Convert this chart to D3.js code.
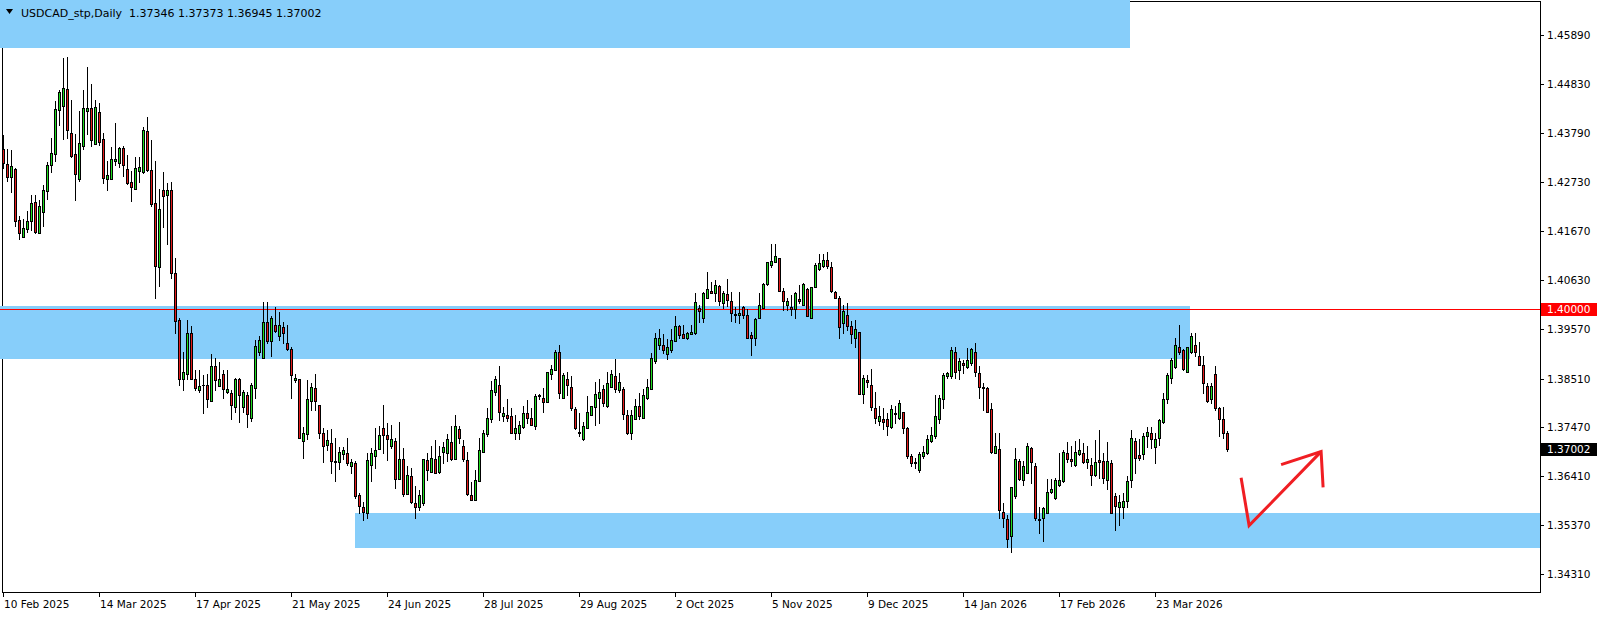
<!DOCTYPE html>
<html><head><meta charset="utf-8">
<script src="https://cdn.jsdelivr.net/npm/d3@7"></script>
<style>html,body{margin:0;padding:0;background:#fff;}svg{display:block;}</style>
</head><body><svg id="c" width="1604" height="617"></svg>
<script>
// ---- data (USDCAD daily) ----
const symbolTitle = "USDCAD_stp,Daily  1.37346 1.37373 1.36945 1.37002";
const opens = [
1.4344,1.4311,1.4283,1.4301,1.4191,1.4154,1.4172,1.4189,1.4230,1.4163,
1.4208,1.4253,1.4309,1.4333,1.4428,1.4436,1.4473,1.4378,1.4333,1.4279,
1.4350,1.4425,1.4432,1.4354,1.4423,1.4365,1.4279,1.4279,1.4318,1.4314,
1.4346,1.4301,1.4273,1.4258,1.4296,1.4294,1.4382,1.4299,1.4228,1.4090,
1.4256,1.4245,1.4256,1.4077,1.3976,1.3851,1.3860,1.3948,1.3849,1.3826,
1.3836,1.3838,1.3802,1.3877,1.3834,1.3860,1.3821,1.3819,1.3789,1.3851,
1.3789,1.3815,1.3767,1.3830,1.3909,1.3894,1.3972,1.3931,1.3967,1.3942,
1.3961,1.3927,1.3914,1.3847,1.3849,1.3716,1.3731,1.3802,1.3830,1.3795,
1.3733,1.3709,1.3712,1.3673,1.3671,1.3688,1.3692,1.3662,1.3669,1.3600,
1.3576,1.3561,1.3666,1.3684,1.3699,1.3744,1.3729,1.3705,1.3716,1.3636,
1.3679,1.3602,1.3641,1.3583,1.3576,1.3583,1.3675,1.3651,1.3679,1.3651,
1.3694,1.3690,1.3714,1.3679,1.3742,1.3705,1.3675,1.3600,1.3589,1.3630,
1.3694,1.3731,1.3763,1.3821,1.3838,1.3770,1.3772,1.3770,1.3735,1.3733,
1.3746,1.3776,1.3767,1.3750,1.3815,1.3810,1.3800,1.3860,1.3869,1.3907,
1.3810,1.3851,1.3832,1.3785,1.3737,1.3720,1.3744,1.3772,1.3789,1.3810,
1.3828,1.3793,1.3832,1.3856,1.3826,1.3828,1.3772,1.3735,1.3763,1.3793,
1.3767,1.3810,1.3828,1.3888,1.3922,1.3922,1.3903,1.3912,1.3931,1.3963,
1.3946,1.3939,1.3946,1.3948,1.4002,1.3982,1.4025,1.4040,1.4034,1.4049,
1.4013,1.4032,1.4017,1.3989,1.3987,1.4004,1.3987,1.3944,1.3939,1.3980,
1.4002,1.4053,1.4094,1.4101,1.4109,1.4038,1.4010,1.4004,1.4000,1.4021,
1.4010,1.4043,1.3982,1.4047,1.4086,1.4092,1.4105,1.4090,1.4036,1.4025,
1.3970,1.3987,1.3963,1.3937,1.3950,1.3817,1.3847,1.3836,1.3787,1.3759,
1.3765,1.3763,1.3746,1.3776,1.3767,1.3778,1.3744,1.3684,1.3671,1.3654,
1.3684,1.3692,1.3716,1.3727,1.3763,1.3808,1.3856,1.3856,1.3907,1.3869,
1.3884,1.3875,1.3884,1.3907,1.3862,1.3832,1.3830,1.3785,1.3692,1.3699,
1.3565,1.3550,1.3512,1.3598,1.3673,1.3632,1.3649,1.3701,1.3664,1.3550,
1.3552,1.3563,1.3608,1.3595,1.3623,1.3630,1.3690,1.3677,1.3666,1.3688,
1.3690,1.3671,1.3666,1.3643,1.3675,1.3673,1.3632,1.3669,1.3598,1.3574,
1.3574,1.3587,1.3632,1.3716,1.3686,1.3688,1.3727,1.3733,1.3703,1.3724,
1.3757,1.3806,1.3853,1.3875,1.3918,1.3912,1.3864,1.3907,1.3924,1.3899,
1.3879,1.3834,1.3806,1.3860,1.3787,1.3763,1.37346];
const highs = [
1.4374,1.4344,1.4342,1.4303,1.4200,1.4193,1.4210,1.4245,1.4245,1.4234,
1.4266,1.4316,1.4367,1.4447,1.4470,1.4539,1.4541,1.4449,1.4376,1.4425,
1.4470,1.4520,1.4483,1.4449,1.4443,1.4378,1.4318,1.4348,1.4400,1.4348,
1.4350,1.4331,1.4296,1.4326,1.4326,1.4391,1.4412,1.4363,1.4318,1.4258,
1.4294,1.4271,1.4273,1.4109,1.3982,1.3909,1.3976,1.3963,1.3869,1.3869,
1.3858,1.3860,1.3903,1.3896,1.3886,1.3869,1.3869,1.3826,1.3853,1.3853,
1.3826,1.3823,1.3841,1.3933,1.3942,1.4015,1.4015,1.3985,1.4004,1.3993,
1.3972,1.3967,1.3918,1.3860,1.3851,1.3746,1.3847,1.3841,1.3860,1.3795,
1.3744,1.3740,1.3742,1.3724,1.3703,1.3703,1.3724,1.3679,1.3673,1.3606,
1.3585,1.3692,1.3701,1.3744,1.3750,1.3795,1.3755,1.3752,1.3724,1.3757,
1.3701,1.3664,1.3658,1.3619,1.3611,1.3679,1.3692,1.3707,1.3718,1.3707,
1.3714,1.3731,1.3750,1.3772,1.3750,1.3718,1.3694,1.3628,1.3654,1.3724,
1.3740,1.3787,1.3845,1.3856,1.3877,1.3789,1.3808,1.3787,1.3772,1.3759,
1.3793,1.3804,1.3787,1.3817,1.3817,1.3830,1.3866,1.3879,1.3912,1.3922,
1.3862,1.3866,1.3856,1.3789,1.3776,1.3757,1.3813,1.3793,1.3843,1.3851,
1.3836,1.3864,1.3869,1.3892,1.3862,1.3832,1.3783,1.3783,1.3808,1.3819,
1.3828,1.3849,1.3905,1.3948,1.3957,1.3946,1.3935,1.3957,1.3985,1.3967,
1.3965,1.3950,1.3967,1.4034,1.4008,1.4036,1.4079,1.4058,1.4062,1.4051,
1.4040,1.4064,1.4036,1.4004,1.4036,1.4006,1.4000,1.3950,1.3982,1.4034,
1.4056,1.4101,1.4139,1.4139,1.4109,1.4045,1.4023,1.4030,1.4036,1.4051,
1.4056,1.4045,1.4047,1.4099,1.4118,1.4118,1.4122,1.4101,1.4040,1.4028,
1.4010,1.4013,1.3974,1.3976,1.3950,1.3858,1.3858,1.3871,1.3821,1.3791,
1.3787,1.3776,1.3795,1.3791,1.3804,1.3778,1.3746,1.3688,1.3681,1.3694,
1.3705,1.3729,1.3746,1.3815,1.3815,1.3862,1.3866,1.3918,1.3918,1.3896,
1.3890,1.3916,1.3916,1.3927,1.3877,1.3841,1.3832,1.3798,1.3735,1.3735,
1.3583,1.3557,1.3617,1.3701,1.3679,1.3673,1.3712,1.3703,1.3669,1.3574,
1.3574,1.3636,1.3636,1.3638,1.3690,1.3697,1.3714,1.3707,1.3716,1.3722,
1.3712,1.3707,1.3681,1.3718,1.3740,1.3692,1.3714,1.3675,1.3604,1.3600,
1.3604,1.3641,1.3740,1.3724,1.3720,1.3735,1.3746,1.3746,1.3733,1.3765,
1.3819,1.3862,1.3896,1.3939,1.3965,1.3914,1.3918,1.3948,1.3948,1.3929,
1.3899,1.3841,1.3841,1.3877,1.3789,1.3789,1.37373];
const lows = [
1.4303,1.4275,1.4251,1.4178,1.4150,1.4154,1.4165,1.4170,1.4163,1.4163,
1.4178,1.4236,1.4294,1.4318,1.4395,1.4365,1.4367,1.4326,1.4234,1.4275,
1.4344,1.4376,1.4350,1.4354,1.4352,1.4271,1.4256,1.4279,1.4309,1.4305,
1.4286,1.4268,1.4232,1.4258,1.4273,1.4292,1.4296,1.4221,1.4023,1.4049,
1.4176,1.4139,1.4068,1.3948,1.3836,1.3826,1.3849,1.3849,1.3826,1.3823,
1.3776,1.3789,1.3802,1.3826,1.3834,1.3810,1.3819,1.3765,1.3780,1.3757,
1.3780,1.3746,1.3759,1.3810,1.3901,1.3894,1.3927,1.3899,1.3950,1.3933,
1.3927,1.3912,1.3810,1.3843,1.3724,1.3681,1.3720,1.3783,1.3783,1.3724,
1.3671,1.3697,1.3649,1.3630,1.3656,1.3679,1.3666,1.3647,1.3595,1.3563,
1.3546,1.3552,1.3630,1.3658,1.3699,1.3690,1.3675,1.3701,1.3615,1.3636,
1.3598,1.3602,1.3583,1.3552,1.3568,1.3580,1.3634,1.3651,1.3649,1.3647,
1.3669,1.3673,1.3675,1.3679,1.3712,1.3673,1.3600,1.3589,1.3589,1.3630,
1.3694,1.3727,1.3757,1.3815,1.3761,1.3759,1.3759,1.3733,1.3720,1.3722,
1.3744,1.3755,1.3752,1.3742,1.3806,1.3778,1.3800,1.3849,1.3869,1.3810,
1.3810,1.3815,1.3783,1.3742,1.3727,1.3718,1.3744,1.3772,1.3752,1.3755,
1.3791,1.3789,1.3832,1.3821,1.3823,1.3765,1.3731,1.3722,1.3763,1.3765,
1.3767,1.3808,1.3828,1.3884,1.3914,1.3905,1.3892,1.3909,1.3931,1.3937,
1.3937,1.3935,1.3946,1.3946,1.3972,1.3972,1.4025,1.4034,1.4017,1.4010,
1.4002,1.4006,1.3974,1.3972,1.3970,1.3982,1.3937,1.3901,1.3922,1.3980,
1.4002,1.4051,1.4090,1.4101,1.4040,1.3998,1.3998,1.3987,1.3982,1.4013,
1.4010,1.3985,1.3980,1.4047,1.4084,1.4090,1.4088,1.4036,1.4023,1.3937,
1.3948,1.3955,1.3927,1.3918,1.3817,1.3798,1.3832,1.3783,1.3755,1.3752,
1.3742,1.3729,1.3744,1.3755,1.3765,1.3733,1.3681,1.3664,1.3658,1.3651,
1.3681,1.3688,1.3714,1.3724,1.3755,1.3787,1.3853,1.3853,1.3853,1.3851,
1.3862,1.3873,1.3881,1.3856,1.3810,1.3783,1.3778,1.3692,1.3690,1.3552,
1.3531,1.3490,1.3479,1.3595,1.3632,1.3623,1.3647,1.3626,1.3548,1.3520,
1.3501,1.3561,1.3604,1.3593,1.3621,1.3628,1.3671,1.3664,1.3664,1.3686,
1.3669,1.3658,1.3623,1.3641,1.3638,1.3626,1.3613,1.3561,1.3525,1.3537,
1.3552,1.3574,1.3617,1.3649,1.3675,1.3679,1.3703,1.3701,1.3669,1.3709,
1.3755,1.3798,1.3841,1.3873,1.3903,1.3869,1.3864,1.3905,1.3899,1.3879,
1.3819,1.3800,1.3798,1.3783,1.3727,1.3724,1.36945];
const closes = [
1.4314,1.4283,1.4307,1.4189,1.4163,1.4174,1.4189,1.4228,1.4165,1.4221,
1.4256,1.4309,1.4335,1.4430,1.4466,1.4475,1.4385,1.4329,1.4290,1.4357,
1.4432,1.4432,1.4363,1.4434,1.4359,1.4281,1.4288,1.4322,1.4322,1.4346,
1.4309,1.4271,1.4262,1.4303,1.4305,1.4385,1.4299,1.4225,1.4092,1.4215,
1.4243,1.4256,1.4077,1.3974,1.3851,1.3866,1.3948,1.3849,1.3830,1.3834,
1.3838,1.3806,1.3877,1.3847,1.3849,1.3828,1.3828,1.3795,1.3851,1.3815,
1.3821,1.3774,1.3836,1.3920,1.3933,1.3972,1.3931,1.3980,1.3952,1.3965,
1.3948,1.3914,1.3858,1.3853,1.3724,1.3733,1.3808,1.3832,1.3802,1.3735,
1.3707,1.3718,1.3673,1.3671,1.3694,1.3697,1.3669,1.3671,1.3598,1.3578,
1.3565,1.3675,1.3692,1.3697,1.3729,1.3729,1.3722,1.3722,1.3636,1.3679,
1.3602,1.3643,1.3585,1.3576,1.3600,1.3679,1.3654,1.3681,1.3649,1.3684,
1.3703,1.3720,1.3679,1.3750,1.3724,1.3677,1.3602,1.3591,1.3632,1.3697,
1.3735,1.3767,1.3826,1.3851,1.3778,1.3776,1.3767,1.3735,1.3744,1.3752,
1.3776,1.3767,1.3752,1.3813,1.3813,1.3800,1.3864,1.3871,1.3907,1.3819,
1.3858,1.3836,1.3787,1.3744,1.3735,1.3748,1.3780,1.3791,1.3817,1.3821,
1.3798,1.3841,1.3860,1.3828,1.3843,1.3774,1.3733,1.3772,1.3793,1.3770,
1.3815,1.3832,1.3894,1.3937,1.3939,1.3912,1.3918,1.3933,1.3963,1.3944,
1.3939,1.3948,1.3950,1.4015,1.3995,1.4034,1.4043,1.4034,1.4051,1.4017,
1.4034,1.4019,1.3991,1.3987,1.3991,1.3987,1.3939,1.3937,1.3978,1.4008,
1.4053,1.4101,1.4103,1.4114,1.4040,1.4017,1.4017,1.4000,1.4034,1.4017,
1.4053,1.3985,1.4047,1.4094,1.4099,1.4105,1.4092,1.4038,1.4025,1.3961,
1.3995,1.3963,1.3946,1.3957,1.3817,1.3853,1.3843,1.3789,1.3767,1.3770,
1.3757,1.3748,1.3785,1.3774,1.3798,1.3744,1.3684,1.3669,1.3669,1.3688,
1.3694,1.3722,1.3729,1.3770,1.3810,1.3858,1.3862,1.3912,1.3864,1.3888,
1.3879,1.3890,1.3914,1.3866,1.3832,1.3830,1.3780,1.3694,1.3705,1.3568,
1.3552,1.3507,1.3617,1.3679,1.3636,1.3662,1.3707,1.3671,1.3552,1.3548,
1.3572,1.3608,1.3613,1.3634,1.3634,1.3694,1.3677,1.3673,1.3694,1.3697,
1.3671,1.3679,1.3643,1.3671,1.3671,1.3638,1.3673,1.3563,1.3578,1.3585,
1.3587,1.3630,1.3724,1.3681,1.3681,1.3727,1.3737,1.3722,1.3720,1.3761,
1.3808,1.3858,1.3890,1.3922,1.3909,1.3871,1.3918,1.3942,1.3907,1.3881,
1.3841,1.3802,1.3834,1.3787,1.3763,1.3735,1.37002];

const dateLabels = ["10 Feb 2025","14 Mar 2025","17 Apr 2025","21 May 2025","24 Jun 2025","28 Jul 2025",
  "29 Aug 2025","2 Oct 2025","5 Nov 2025","9 Dec 2025","14 Jan 2026","17 Feb 2026","23 Mar 2026"];
const dateLabelBars = [0,24,48,72,96,120,144,168,192,216,240,264,288];
const priceTicks = [1.45890,1.44830,1.43790,1.42730,1.41670,1.40630,1.39570,1.38510,1.37470,1.36410,1.35370,1.34310];
const levelPrice = 1.40000;
const lastPrice = 1.37002;
// supply / demand zones: [from bar, to bar] and [top, bottom] prices
const zoneFrom = [-1, -1, 87.9];
const zoneTo = [281.6, 296.6, 400];
const zoneTop = [1.4700, 1.4006, 1.3562];
const zoneBottom = [1.4560, 1.3892, 1.3486];
// hand drawn arrow (bar index, price)
const arrowBars = [309.4, 311.4, 329.4];
const arrowPrices = [1.3638, 1.3535, 1.3694];
const headBars = [319.4, 329.4, 329.9];
const headPrices = [1.3666, 1.3694, 1.3617];

// ---- drawing ----
const N = opens.length;
const svg = d3.select("#c");
const frameR = 1540, frameB = 592;
const x = d3.scaleLinear().domain([0, N - 1]).range([3.5, 3.5 + 4 * (N - 1)]);
const y = d3.scaleLinear().domain([1.34310, 1.45890]).range([574, 35]);
const FONT = "DejaVu Sans";

svg.append("rect").attr("width", 1604).attr("height", 617).attr("fill", "#fff");
svg.append("defs").append("clipPath").attr("id", "plot")
  .append("rect").attr("x", 0).attr("y", 0).attr("width", frameR).attr("height", frameB);

// left/top frame (under zones)
svg.append("line").attr("x1", 2.5).attr("x2", 2.5).attr("y1", 1.5).attr("y2", frameB).attr("stroke", "#000");
svg.append("line").attr("x1", 2).attr("x2", frameR).attr("y1", 1.5).attr("y2", 1.5).attr("stroke", "#000");

const g = svg.append("g").attr("clip-path", "url(#plot)");
g.selectAll("rect.zone").data(zoneTop).join("rect").attr("class", "zone")
  .attr("x", (d, i) => Math.max(0, x(zoneFrom[i])))
  .attr("width", (d, i) => Math.min(frameR, x(zoneTo[i])) - Math.max(0, x(zoneFrom[i])))
  .attr("y", d => y(d))
  .attr("height", (d, i) => y(zoneBottom[i]) - y(d))
  .attr("fill", "#87cefa").attr("shape-rendering", "crispEdges");

// level line
g.append("line").attr("x1", 0).attr("x2", frameR)
  .attr("y1", Math.floor(y(levelPrice)) + 0.5).attr("y2", Math.floor(y(levelPrice)) + 0.5)
  .attr("stroke", "#ff0000").attr("stroke-width", 1.2).attr("shape-rendering", "crispEdges");

// candles
const cg = g.append("g").attr("shape-rendering", "crispEdges");
const idx = d3.range(N);
cg.selectAll("rect.wick").data(idx).join("rect").attr("class", "wick")
  .attr("x", i => x(i) - 0.5).attr("width", 1)
  .attr("y", i => Math.round(y(highs[i])))
  .attr("height", i => Math.max(1, Math.round(y(lows[i])) - Math.round(y(highs[i])) + 1))
  .attr("fill", "#000");
const bodyTop = i => Math.round(y(Math.max(opens[i], closes[i])));
const bodyBot = i => Math.max(Math.round(y(Math.min(opens[i], closes[i]))), bodyTop(i));
cg.selectAll("rect.body").data(idx).join("rect").attr("class", "body")
  .attr("x", i => x(i) - 1.5).attr("width", 3)
  .attr("y", bodyTop).attr("height", i => bodyBot(i) - bodyTop(i) + 1)
  .attr("fill", "#000");
cg.selectAll("rect.fill").data(idx.filter(i => bodyBot(i) - bodyTop(i) >= 2)).join("rect").attr("class", "fill")
  .attr("x", i => x(i) - 0.5).attr("width", 1)
  .attr("y", i => bodyTop(i) + 1).attr("height", i => bodyBot(i) - bodyTop(i) - 1)
  .attr("fill", i => closes[i] >= opens[i] ? "#1fdc1f" : "#e41b1b");

// arrow
const line = d3.line().x(d => x(d[0])).y(d => y(d[1]));
g.append("path").attr("d", line(arrowBars.map((b, i) => [b, arrowPrices[i]])))
  .attr("fill", "none").attr("stroke", "#f01e23").attr("stroke-width", 3).attr("stroke-linejoin", "miter");
g.append("path").attr("d", line(headBars.map((b, i) => [b, headPrices[i]])))
  .attr("fill", "none").attr("stroke", "#f01e23").attr("stroke-width", 3).attr("stroke-linejoin", "miter");

// right/bottom frame
svg.append("line").attr("x1", frameR + 0.5).attr("x2", frameR + 0.5).attr("y1", 1).attr("y2", frameB + 0.5).attr("stroke", "#000");
svg.append("line").attr("x1", 2).attr("x2", frameR + 1).attr("y1", frameB + 0.5).attr("y2", frameB + 0.5).attr("stroke", "#000");

// price axis
const pa = svg.append("g");
pa.selectAll("line").data(priceTicks).join("line")
  .attr("x1", frameR + 1).attr("x2", frameR + 4)
  .attr("y1", d => Math.round(y(d)) + 0.5).attr("y2", d => Math.round(y(d)) + 0.5).attr("stroke", "#000");
pa.selectAll("text").data(priceTicks).join("text")
  .attr("x", frameR + 7).attr("y", d => y(d) + 4)
  .attr("font-family", FONT).attr("font-size", "10.5px").attr("fill", "#000")
  .text(d => d.toFixed(5));

function priceBox(p, bg) {
  const yy = Math.round(y(p));
  svg.append("rect").attr("x", frameR + 1).attr("y", yy - 6).attr("width", 56).attr("height", 13).attr("fill", bg);
  svg.append("text").attr("x", frameR + 7).attr("y", yy + 4).attr("font-family", FONT).attr("font-size", "10.5px")
    .attr("fill", "#fff").text(p.toFixed(5));
}
priceBox(levelPrice, "#ff0000");
priceBox(lastPrice, "#000");

// time axis
const ta = svg.append("g");
ta.selectAll("line").data(dateLabelBars).join("line")
  .attr("x1", b => Math.floor(x(b)) + 0.5).attr("x2", b => Math.floor(x(b)) + 0.5)
  .attr("y1", frameB + 1).attr("y2", frameB + 5).attr("stroke", "#000");
ta.selectAll("text").data(dateLabels).join("text")
  .attr("x", (d, i) => Math.floor(x(dateLabelBars[i])) + 1).attr("y", 608)
  .attr("font-family", FONT).attr("font-size", "10.5px").attr("fill", "#000")
  .text(d => d);

// title
svg.append("path").attr("d", "M6,9 L13,9 L9.5,14 Z").attr("fill", "#000");
svg.append("text").attr("x", 21).attr("y", 17).attr("font-family", FONT).attr("font-size", "11px")
  .attr("fill", "#000").style("white-space", "pre").text(symbolTitle);
</script></body></html>
